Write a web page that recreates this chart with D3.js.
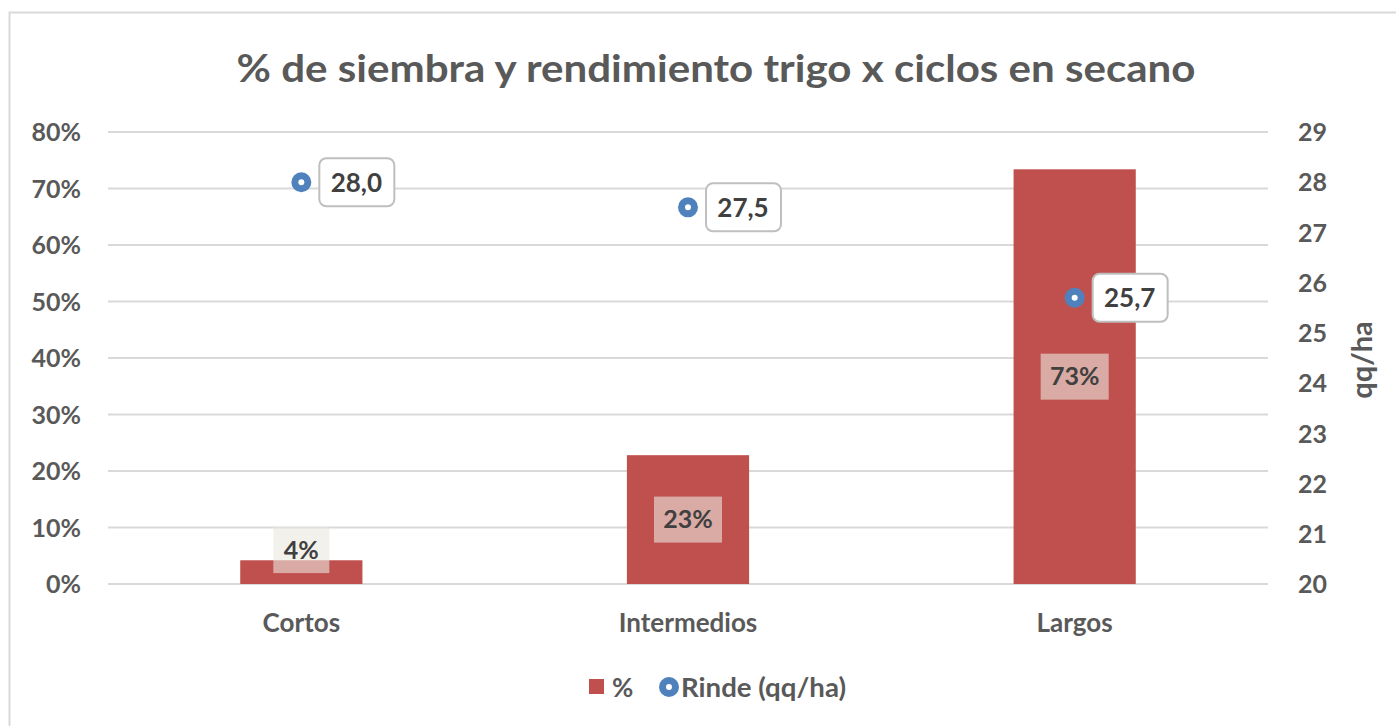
<!DOCTYPE html>
<html><head><meta charset="utf-8">
<script src="https://cdn.jsdelivr.net/npm/d3@7"></script>
<style>
html,body{margin:0;padding:0;background:#fff;}
svg{display:block;font-family:Lato,"Open Sans",sans-serif;}
</style></head>
<body>
<svg id="chart" width="1396" height="726"></svg>
<script>
const categories = ["Cortos", "Intermedios", "Largos"];
const pctValues = [4.2, 22.8, 73.4];
const pctLabels = ["4%", "23%", "73%"];
const rindeValues = [28.0, 27.5, 25.7];
const rindeLabels = ["28,0", "27,5", "25,7"];
const leftTicks = [0, 10, 20, 30, 40, 50, 60, 70, 80];
const rightTicks = [20, 21, 22, 23, 24, 25, 26, 27, 28, 29];
const title = "% de siembra y rendimiento trigo x ciclos en secano";

const svg = d3.select("#chart");
const gray = "#595959";

// frame
svg.append("rect").attr("x", 9.5).attr("y", 12.5).attr("width", 1400).attr("height", 730)
  .attr("fill", "#fff").attr("stroke", "#d9d9d9").attr("stroke-width", 2);

const x = d3.scaleBand().domain(categories).range([108, 1268]).paddingInner(0.684).paddingOuter(0.342);
const yL = d3.scaleLinear().domain([0, 80]).range([584, 132]);
const yR = d3.scaleLinear().domain([20, 29]).range([584, 132]);

// gridlines
svg.append("g").selectAll("line").data(leftTicks).join("line")
  .attr("x1", 108).attr("x2", 1268)
  .attr("y1", d => yL(d)).attr("y2", d => yL(d))
  .attr("stroke", "#d9d9d9").attr("stroke-width", 2);

// title
const t = svg.append("text").attr("x", 716).attr("y", 82).attr("text-anchor", "middle")
  .attr("font-size", 38).attr("font-weight", "bold").attr("fill", gray).text(title);
t.attr("textLength", 959).attr("lengthAdjust", "spacingAndGlyphs");

// left axis
const axL = d3.axisLeft(yL).tickValues(leftTicks).tickFormat(d => d + "%").tickSize(0).tickPadding(0);
const gL = svg.append("g").attr("transform", "translate(81,0)").call(axL);
gL.select(".domain").remove();
gL.selectAll("text").attr("font-size", 25).attr("font-weight", "bold").attr("fill", gray)
  .attr("font-family", "Lato,sans-serif").attr("dy", "0.35em");

// right axis
const axR = d3.axisRight(yR).tickValues(rightTicks).tickFormat(d => d).tickSize(0).tickPadding(0);
const gR = svg.append("g").attr("transform", "translate(1298,0)").call(axR);
gR.select(".domain").remove();
gR.selectAll("text").attr("font-size", 25).attr("font-weight", "bold").attr("fill", gray)
  .attr("font-family", "Lato,sans-serif").attr("dy", "0.35em");

svg.append("text").attr("transform", "translate(1362,360) rotate(-90)")
  .attr("text-anchor", "middle").attr("dy", "0.35em").attr("font-size", 29).attr("font-weight", "bold")
  .attr("fill", gray).text("qq/ha");

// x axis labels
const axX = d3.axisBottom(x).tickSize(0).tickPadding(0);
const gX = svg.append("g").attr("transform", "translate(0,623)").call(axX);
gX.select(".domain").remove();
gX.selectAll("text").attr("font-size", 26).attr("font-weight", "bold").attr("fill", gray)
  .attr("font-family", "Lato,sans-serif").attr("dy", "0.35em");

// bars
svg.append("g").selectAll("rect").data(pctValues).join("rect")
  .attr("x", (d, i) => x(categories[i]))
  .attr("width", x.bandwidth())
  .attr("y", d => yL(d))
  .attr("height", d => yL(0) - yL(d))
  .attr("fill", "#c0504d");

// bar labels
const bl = svg.append("g").selectAll("g").data(pctValues).join("g")
  .attr("transform", (d, i) => `translate(${x(categories[i]) + x.bandwidth() / 2},${(yL(d) + yL(0)) / 2 < yL(6) ? (yL(d) + yL(0)) / 2 : yL(6)})`);
bl.append("rect").attr("x", (d, i) => pctLabels[i].length > 2 ? -34 : -28).attr("y", -23)
  .attr("width", (d, i) => pctLabels[i].length > 2 ? 68 : 56).attr("height", 46)
  .attr("fill", "rgba(235,232,223,0.6)");
bl.append("text").attr("text-anchor", "middle").attr("dy", "0.35em")
  .attr("font-size", 25).attr("font-weight", "bold").attr("fill", "#404040")
  .text((d, i) => pctLabels[i]);

// rinde markers
const cx = i => x(categories[i]) + x.bandwidth() / 2;
svg.append("g").selectAll("circle").data(rindeValues).join("circle")
  .attr("cx", (d, i) => cx(i)).attr("cy", d => yR(d)).attr("r", 6.5)
  .attr("fill", "#fff").attr("stroke", "#4f81bd").attr("stroke-width", 7);

// rinde labels
const rl = svg.append("g").selectAll("g").data(rindeValues).join("g")
  .attr("transform", (d, i) => `translate(${cx(i) + 55},${yR(d)})`);
rl.append("rect").attr("x", -37).attr("y", -24).attr("width", 75).attr("height", 48)
  .attr("rx", 7).attr("fill", "#fff").attr("stroke", "#bfbfbf").attr("stroke-width", 2);
rl.append("text").attr("text-anchor", "middle").attr("dy", "0.36em")
  .attr("font-size", 26).attr("font-weight", "bold").attr("fill", "#404040")
  .text((d, i) => rindeLabels[i]);

// legend
const lg = svg.append("g");
lg.append("rect").attr("x", 589).attr("y", 679).attr("width", 15).attr("height", 15).attr("fill", "#c0504d");
lg.append("text").attr("x", 612).attr("y", 688).attr("dy", "0.35em").attr("font-size", 26)
  .attr("font-weight", "bold").attr("fill", gray).text("%");
lg.append("circle").attr("cx", 669).attr("cy", 687).attr("r", 6.5).attr("fill", "#fff")
  .attr("stroke", "#4f81bd").attr("stroke-width", 7);
lg.append("text").attr("x", 681).attr("y", 688).attr("dy", "0.35em").attr("font-size", 26)
  .attr("font-weight", "bold").attr("fill", gray).attr("textLength", 165)
  .attr("lengthAdjust", "spacingAndGlyphs").text("Rinde (qq/ha)");
</script>
</body></html>
